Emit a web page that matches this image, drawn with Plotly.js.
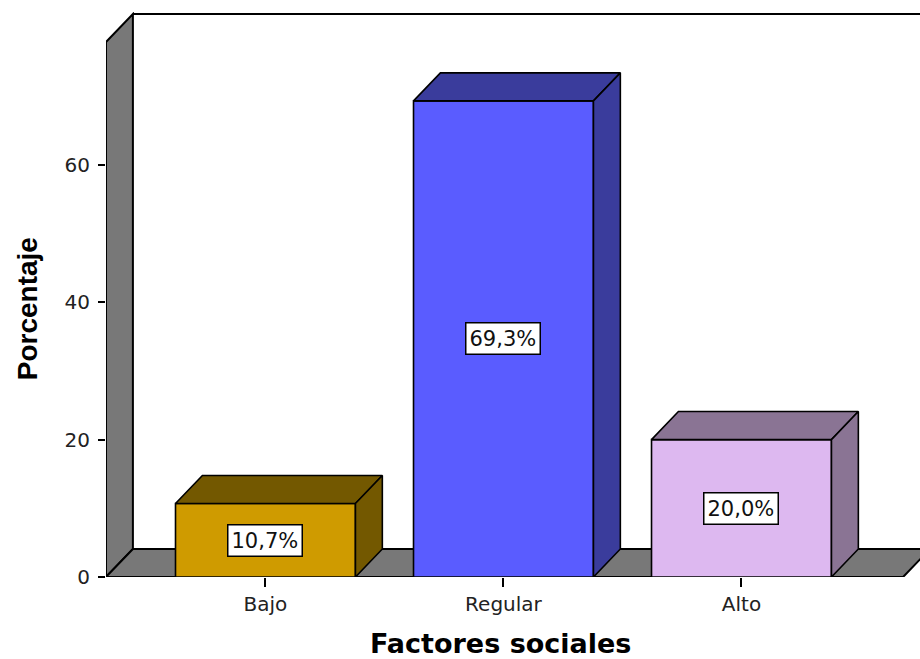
<!DOCTYPE html>
<html>
<head>
<meta charset="utf-8">
<script src="https://cdn.plot.ly/plotly-3.0.1.min.js"></script>
<style>html,body{margin:0;padding:0;background:#fff;}#chart{width:920px;height:659px;}</style>
</head>
<body>
<div id="chart"></div>
<script>
// ---- data ----
const categories = ["Bajo", "Regular", "Alto"];
const percentages = [10.7, 69.3, 20.0];
const labels = ["10,7%", "69,3%", "20,0%"];
const yTickValues = [0, 20, 40, 60];
const frontColors = ["#CF9B00", "#5A5CFF", "#DDB8F0"];
const shadeColors = ["#735800", "#3A3C9C", "#8A7494"];

// ---- geometry (data units) ----
const BAR_W = 0.756;
const DX = 0.113;   // depth in x
const DY = 4.08;    // depth in y
const X_MIN = -0.670, X_MAX = 2.750;
const Y_MAX = 82.24;
const WALL_TOP = 81.95;
const FLOOR_RIGHT = 2.679;
const WALL_GREY = "#787878";

const xs = categories.map((c, i) => i);

const traces = [];
// front faces
traces.push({
  type: "bar", x: xs, y: percentages, width: BAR_W,
  marker: {color: frontColors, line: {color: "#000", width: 1.6}},
  hoverinfo: "skip", showlegend: false
});
// top and side faces
xs.forEach((xc, i) => {
  const v = percentages[i];
  const l = xc - BAR_W / 2, r = xc + BAR_W / 2;
  traces.push({
    type: "scatter", mode: "lines", fill: "toself", fillcolor: shadeColors[i],
    x: [l, l + DX, r + DX, r, l], y: [v, v + DY, v + DY, v, v],
    line: {color: "#000", width: 1.6}, hoverinfo: "skip", showlegend: false
  });
  traces.push({
    type: "scatter", mode: "lines", fill: "toself", fillcolor: shadeColors[i],
    x: [r, r, r + DX, r + DX, r], y: [0, v, v + DY, DY, 0],
    line: {color: "#000", width: 1.6}, hoverinfo: "skip", showlegend: false
  });
});

const shapes = [
  // left wall
  {type: "path", xref: "x", yref: "y", layer: "below",
   path: `M ${X_MIN} 0 L ${X_MIN} ${WALL_TOP - DY} L ${X_MIN + DX} ${WALL_TOP} L ${X_MIN + DX} ${DY} Z`,
   fillcolor: WALL_GREY, line: {color: "#000", width: 2}},
  // floor
  {type: "path", xref: "x", yref: "y", layer: "below",
   path: `M ${X_MIN} 0 L ${X_MIN + DX} ${DY} L ${FLOOR_RIGHT + DX} ${DY} L ${FLOOR_RIGHT} 0 Z`,
   fillcolor: WALL_GREY, line: {color: "#000", width: 2}},
  // back wall top edge
  {type: "line", xref: "x", yref: "y", layer: "below",
   x0: X_MIN + DX, x1: X_MAX + 0.2, y0: WALL_TOP, y1: WALL_TOP,
   line: {color: "#000", width: 2}}
];

const annotations = xs.map((xc, i) => ({
  x: xc, y: percentages[i] / 2, xref: "x", yref: "y",
  text: labels[i], showarrow: false,
  bgcolor: "#fff", bordercolor: "#000", borderwidth: 1.5, borderpad: 3,
  font: {family: "DejaVu Sans", size: 21, color: "#111"}
}));
annotations.push({
  xref: "paper", yref: "paper", x: -0.097, y: 0.474,
  xanchor: "center", yanchor: "middle", textangle: -90, showarrow: false,
  text: "Porcentaje",
  font: {family: "Liberation Sans, Arial", size: 28, color: "#000", weight: "bold"}
});
annotations.push({
  xref: "paper", yref: "paper", x: 0.485, y: -0.117,
  xanchor: "center", yanchor: "middle", showarrow: false,
  text: "Factores sociales",
  font: {family: "DejaVu Sans", size: 27, color: "#000", weight: "bold"}
});

const layout = {
  width: 920, height: 659,
  margin: {l: 106, r: 0, t: 12, b: 82},
  paper_bgcolor: "#fff", plot_bgcolor: "#fff",
  showlegend: false,
  xaxis: {
    range: [X_MIN, X_MAX], tickvals: xs, ticktext: categories,
    showgrid: false, zeroline: false, showline: false,
    ticks: "outside", ticklen: 9, tickwidth: 2, tickcolor: "#000",
    tickfont: {family: "DejaVu Sans", size: 20, color: "#222"},
    fixedrange: true
  },
  yaxis: {
    range: [0, Y_MAX], tickvals: yTickValues,
    showgrid: false, zeroline: false, showline: false,
    ticks: "outside", ticklen: 7, tickwidth: 2, tickcolor: "#000",
    ticklabelstandoff: 4,
    tickfont: {family: "DejaVu Sans", size: 20, color: "#222"},
    fixedrange: true
  },
  shapes: shapes,
  annotations: annotations
};

Plotly.newPlot("chart", traces, layout, {staticPlot: true, displayModeBar: false});
</script>
</body>
</html>
